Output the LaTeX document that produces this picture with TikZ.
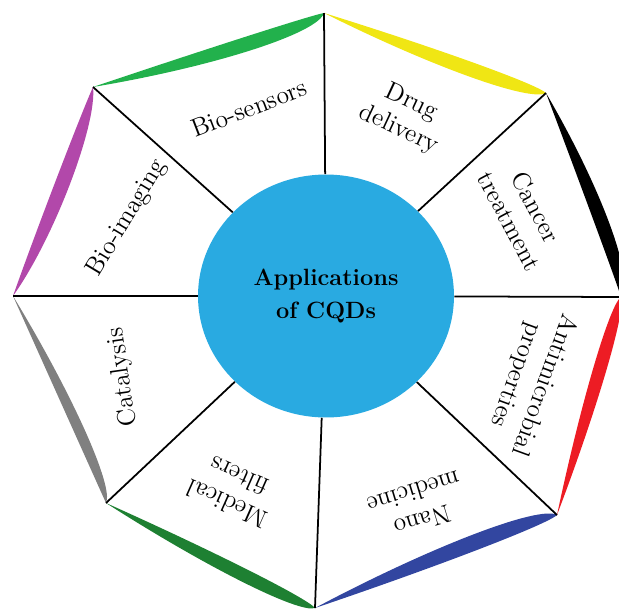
\documentclass[tikz,border=0pt]{standalone}
\usepackage{tikz}
\usetikzlibrary{calc, shapes.geometric}

\definecolor{hubblue}{RGB}{41,170,225}
\definecolor{lensgreen}{RGB}{34,177,76}
\definecolor{lensyellow}{RGB}{240,230,20}
\definecolor{lensred}{RGB}{237,28,36}
\definecolor{lensblue}{RGB}{50,70,160}
\definecolor{lensdkgreen}{RGB}{30,128,50}
\definecolor{lensgray}{RGB}{128,128,128}
\definecolor{lensmagenta}{RGB}{178,72,170}

\begin{document}
\begin{tikzpicture}[x=0.02cm, y=-0.02cm,
 spoke/.style={line width=1pt},
 lbl/.style={align=center, inner sep=0pt, font=\fontsize{14.5}{17}\selectfont}]
 \useasboundingbox (0, 0) rectangle (619, 609);
 \clip (0, 0) rectangle (619, 609);

 %八角形の頂点
 \coordinate (T) at (324, 13);
 \coordinate (UR) at (546, 93);
 \coordinate (R) at (621, 297);
 \coordinate (LR) at (557, 515);
 \coordinate (B) at (315, 608);
 \coordinate (LL) at (106, 503);
 \coordinate (L) at (13, 296);
 \coordinate (UL) at (93, 87);

 %各辺のレンズ形
 \fill [lensgreen] (UL) .. controls ($(UL)!.5!(T)!1pt!90:(T)$) and ($(UL)!.95!(T)!1pt!90:(T)$) .. (T)
  .. controls ($(UL)!.95!(T)!-10pt!90:(T)$) and ($(UL)!.5!(T)!-10pt!90:(T)$) .. (UL) -- cycle;
 \fill [lensyellow] (T) .. controls ($(T)!.5!(UR)!3pt!90:(UR)$) and ($(T)!.95!(UR)!3pt!90:(UR)$) .. (UR)
  .. controls ($(T)!.95!(UR)!-8pt!90:(UR)$) and ($(T)!.5!(UR)!-8pt!90:(UR)$) .. (T) -- cycle;
 \fill [black] (UR) .. controls ($(UR)!.5!(R)!11pt!90:(R)$) and ($(UR)!.95!(R)!11pt!90:(R)$) .. (R)
  .. controls ($(UR)!.95!(R)!.5pt!90:(R)$) and ($(UR)!.5!(R)!.5pt!90:(R)$) .. (UR) -- cycle;
 \fill [lensred] (R) .. controls ($(R)!.05!(LR)!5pt!90:(LR)$) and ($(R)!.5!(LR)!5pt!90:(LR)$) .. (LR)
  .. controls ($(R)!.5!(LR)!-5pt!90:(LR)$) and ($(R)!.05!(LR)!-5pt!90:(LR)$) .. (R) -- cycle;
 \fill [lensblue] (LR) .. controls ($(LR)!.05!(B)!3pt!90:(B)$) and ($(LR)!.5!(B)!3pt!90:(B)$) .. (B)
  .. controls ($(LR)!.5!(B)!-9pt!90:(B)$) and ($(LR)!.05!(B)!-9pt!90:(B)$) .. (LR) -- cycle;
 \fill [lensdkgreen] (B) .. controls ($(B)!.05!(LL)!7pt!90:(LL)$) and ($(B)!.5!(LL)!7pt!90:(LL)$) .. (LL)
  .. controls ($(B)!.5!(LL)!-3pt!90:(LL)$) and ($(B)!.05!(LL)!-3pt!90:(LL)$) .. (B) -- cycle;
 \fill [lensgray] (LL) .. controls ($(LL)!.05!(L)!0pt!90:(L)$) and ($(LL)!.5!(L)!0pt!90:(L)$) .. (L)
  .. controls ($(LL)!.5!(L)!-8pt!90:(L)$) and ($(LL)!.05!(L)!-8pt!90:(L)$) .. (LL) -- cycle;
 \fill [lensmagenta] (L) .. controls ($(L)!.3!(UL)!1pt!90:(UL)$) and ($(L)!.85!(UL)!1pt!90:(UL)$) .. (UL)
  .. controls ($(L)!.85!(UL)!-10pt!90:(UL)$) and ($(L)!.3!(UL)!-10pt!90:(UL)$) .. (L) -- cycle;

 %中心の円
 \node [ellipse, fill=hubblue, minimum width=5.12cm, minimum height=4.86cm, inner sep=0pt,
  align=center, font=\fontsize{13.4}{18.8}\selectfont\bfseries] (hub) at (326, 296) {Applications\\of CQDs};

 \draw [spoke] (hub) -- (T);
 \draw [spoke] (hub) -- (UR);
 \draw [spoke] (hub) -- (R);
 \draw [spoke] (hub) -- (LR);
 \draw [spoke] (hub) -- (B);
 \draw [spoke] (hub) -- (LL);
 \draw [spoke] (hub) -- (L);
 \draw [spoke] (hub) -- (UL);

 %ラベル
 \node [lbl, rotate=21] (biosens) at (249, 108) {Bio-sensors};
 \node [lbl, rotate=59] (bioimg) at (127, 218) {Bio-imaging};
 \node [lbl, rotate=-25] (drug) at (405, 116) {Drug\\delivery};
 \node [lbl, rotate=-62] (cancer) at (523, 214) {Cancer\\treatment};
 \node [lbl, rotate=-110] (antimic) at (530, 380) {Antimicrobial\\properties};
 \node [lbl, rotate=-163] (nano) at (418, 507) {Nano\\medicine};
 \node [lbl, rotate=156] (medfil) at (233, 490) {Medical\\filters};
 \node [lbl, rotate=98] (catal) at (123, 377) {Catalysis};
\end{tikzpicture}
\end{document}
